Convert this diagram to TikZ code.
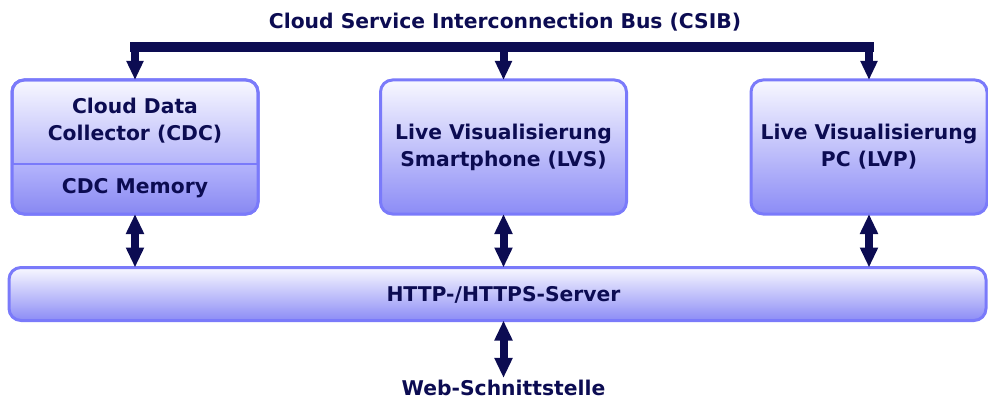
\documentclass[tikz,border=0pt]{standalone}
\usepackage{fontspec}
\setmainfont{DejaVu Sans}
\usetikzlibrary{arrows.meta}

\definecolor{navy}{RGB}{12,12,82}
\definecolor{rim}{RGB}{122,122,250}
\definecolor{boxtop}{RGB}{248,248,255}
\definecolor{boxbot}{RGB}{140,140,246}
\definecolor{memtop}{RGB}{180,180,252}
\definecolor{membot}{RGB}{136,136,242}

\begin{document}
\begin{tikzpicture}[x=1pt,y=-1pt,
    box/.style ={draw=rim, line width=3pt, rounded corners=12pt,
                 top color=boxtop, bottom color=boxbot, outer sep=0pt,
                 minimum height=134pt, minimum width=246pt,
                 text=navy, align=center, font=\bfseries\fontsize{20.3}{27}\selectfont},
    txt/.style ={text=navy, align=center, inner sep=2pt,
                 font=\bfseries\fontsize{20.3}{27}\selectfont},
    bus/.style ={draw=navy, line width=10pt, line cap=rect},
    arr/.style ={draw=navy, line width=8pt, -{Triangle[length=19pt,width=16pt]}},
    darr/.style={draw=navy, line width=8pt,
                 {Triangle[length=20pt,width=17pt]}-{Triangle[length=20pt,width=17pt]}}]
   \useasboundingbox (0,0) rectangle (988,401);

   % the three services
   \node[box] (cdc) at (135,147) {};
   \node[box] (lvs) at (503.5,147) {Live Visualisierung\\Smartphone (LVS)};
   \node[box, minimum width=236pt] (lvp) at (869,147) {Live Visualisierung\\PC (LVP)};

   % memory part of the collector
   \begin{scope}
     \clip[rounded corners=12pt] (cdc.south west) rectangle (cdc.north east);
     \shade[top color=memtop, bottom color=membot]
       (cdc.west |- 0,164) rectangle (cdc.south east);
   \end{scope}
   \draw[rim, line width=2pt] (cdc.west |- 0,164) -- (cdc.east |- 0,164);
   \draw[rim, line width=3pt, rounded corners=12pt] (cdc.south west) rectangle (cdc.north east);
   \node[txt] (cdcname) at (135,121) {Cloud Data\\Collector (CDC)};
   \node[txt] (mem) at (135,188) {CDC Memory};

   % server bar
   \node[box, minimum width=977pt, minimum height=53pt] (srv) at (497.5,294) {};
   \node[txt] (srvname) at (503.5,295) {HTTP-/HTTPS-Server};

   \node[txt] (csib) at (505,22) {Cloud Service Interconnection Bus (CSIB)};
   \node[txt] (web) at (503.5,388) {Web-Schnittstelle};

   % bus on top
   \coordinate (busL) at (cdc.north |- 0,47);
   \coordinate (busR) at (lvp.north |- 0,47);
   \draw[bus] (busL) -- (busR);
   \draw[arr] (busL) -- (cdc.north);
   \draw[arr] (lvs.north |- busL) -- (lvs.north);
   \draw[arr] (busR) -- (lvp.north);

   % links to the server
   \draw[darr] (cdc.south) -- (cdc.south |- srv.north);
   \draw[darr] (lvs.south) -- (lvs.south |- srv.north);
   \draw[darr] (lvp.south) -- (lvp.south |- srv.north);
   \draw[darr] (srvname |- srv.south) -- (web.north);
 \end{tikzpicture}
\end{document}
